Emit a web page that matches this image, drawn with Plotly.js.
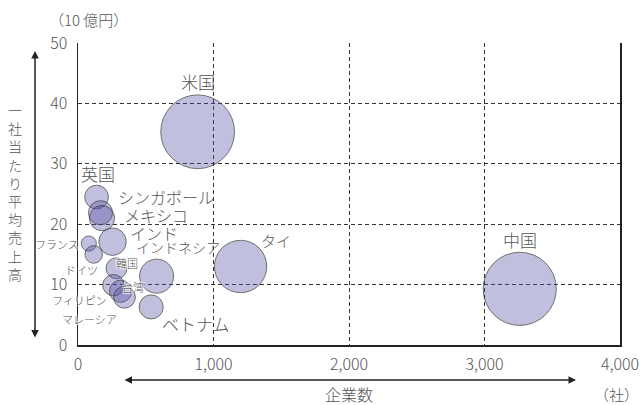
<!DOCTYPE html>
<html>
<head>
<meta charset="utf-8">
<script src="https://cdn.plot.ly/plotly-3.0.1.min.js"></script>
<style>html,body{margin:0;padding:0;background:#fff;}#chart{width:643px;height:405px;}</style>
</head>
<body>
<div id="chart"></div>
<script>
// ---- data ----
const countries = ['米国','中国','タイ','インドネシア','ベトナム','インド','英国','シンガポール','メキシコ','フランス','ドイツ','韓国','フィリピン','台湾','マレーシア'];
const companies = [883, 3260, 1200, 580, 540, 255, 137, 166, 177, 80, 116, 284, 262, 314, 343];      // 企業数 (社)
const avgSales  = [35.3, 9.3, 13.0, 11.4, 6.3, 17.1, 24.5, 21.9, 21.0, 16.8, 15.0, 12.7, 9.9, 8.9, 7.9]; // 一社当たり平均売上高 (10億円)
const totalSales = [31000, 30500, 15600, 6600, 3300, 4300, 3200, 3300, 3600, 1300, 1750, 2500, 2600, 2800, 2700]; // bubble area
const xTicks = [0, 1000, 2000, 3000, 4000];
const yTicks = [0, 10, 20, 30, 40, 50];

// ---- label styling (pixel offsets from bubble centre, font size) ----
const labelStyle = {
  '米国': [0, 50, 17], '中国': [0, 49, 17], 'タイ': [35, 26, 15], 'インドネシア': [21, 29, 14],
  'ベトナム': [45, -17, 17], 'インド': [41, 9, 16], '英国': [1, 24, 17], 'シンガポール': [66, 16, 16],
  'メキシコ': [54, 3, 16], 'フランス': [-32, 0, 11], 'ドイツ': [-12, -16, 11], '韓国': [11, 5, 11],
  'フィリピン': [-34, -15, 11], '台湾': [12, 4, 11], 'マレーシア': [-35, -22, 11]
};

const FONT = '"Noto Sans CJK JP", "Noto Sans", sans-serif';
const TXT = '#555';
const halo = '1px 1px 1px #fff, -1px -1px 1px #fff, 1px -1px 1px #fff, -1px 1px 1px #fff';

const trace = {
  type: 'scatter', mode: 'markers',
  x: companies, y: avgSales, text: countries,
  hoverinfo: 'text',
  marker: {
    size: totalSales, sizemode: 'area', sizeref: 11.4,
    color: 'rgba(78,74,160,0.5)',
    line: {color: '#333', width: 1}
  },
  cliponaxis: false
};

const annotations = countries.map((c, i) => {
  const s = labelStyle[c];
  const small = s[2] <= 11;
  return {
    x: companies[i], y: avgSales[i], xref: 'x', yref: 'y',
    xanchor: 'center', yanchor: 'middle',
    text: c, showarrow: false, xshift: s[0], yshift: s[1],
    font: Object.assign({family: FONT, size: s[2], color: TXT, weight: 300}, small ? {shadow: halo} : {})
  };
});

// axis decorations
const L = 78, R = 23, T = 43, B = 60, W = 643 - L - R, H = 405 - T - B;
const px = v => (v - L) / W, py = v => (405 - B - v) / H;
const note = (x, y, text, size) => ({xref: 'paper', yref: 'paper', x: px(x), y: py(y),
  xanchor: 'center', yanchor: 'middle', showarrow: false, text: text,
  font: {family: FONT, size: size, color: TXT, weight: 300}});
annotations.push(
  {xref: 'paper', yref: 'paper', x: px(35), y: py(51), ax: 0, ay: 288, axref: 'pixel', ayref: 'pixel',
   text: '', showarrow: true, arrowside: 'end+start', arrowhead: 2, arrowsize: 1, arrowwidth: 1.5, arrowcolor: '#222'},
  {xref: 'paper', yref: 'paper', x: px(576), y: py(380), ax: -453, ay: 0, axref: 'pixel', ayref: 'pixel',
   text: '', showarrow: true, arrowside: 'end+start', arrowhead: 2, arrowsize: 1, arrowwidth: 1.5, arrowcolor: '#222'},
  note(15, 192, '一社当たり平均売上高'.split('').join('<br>'), 14),
  note(88, 20, '（10 億円）', 15),
  note(349, 394, '企業数', 16),
  note(616, 394, '（社）', 15)
);

const layout = {
  width: 643, height: 405,
  margin: {l: L, r: R, t: T, b: B, pad: 0},
  paper_bgcolor: '#fff', plot_bgcolor: '#fff',
  showlegend: false,
  font: {family: FONT, color: TXT, size: 16},
  xaxis: {
    range: [0, 4000], tickvals: xTicks, tickformat: ',d',
    showgrid: true, gridcolor: '#333', griddash: '4px,3px', gridwidth: 1,
    showline: true, linecolor: '#222', linewidth: 1.5, zeroline: false,
    ticks: '', ticklabelstandoff: 4, tickfont: {family: FONT, size: 16, color: TXT, weight: 300}
  },
  yaxis: {
    range: [0, 50], tickvals: yTicks,
    showgrid: true, gridcolor: '#333', griddash: '4px,3px', gridwidth: 1,
    showline: true, mirror: true, linecolor: '#222', linewidth: 1.5, zeroline: false,
    ticks: '', ticklabelstandoff: 6, tickfont: {family: FONT, size: 16, color: TXT, weight: 300}
  },
  annotations: annotations
};

Plotly.newPlot('chart', [trace], layout, {staticPlot: true, displayModeBar: false});
</script>
</body>
</html>
